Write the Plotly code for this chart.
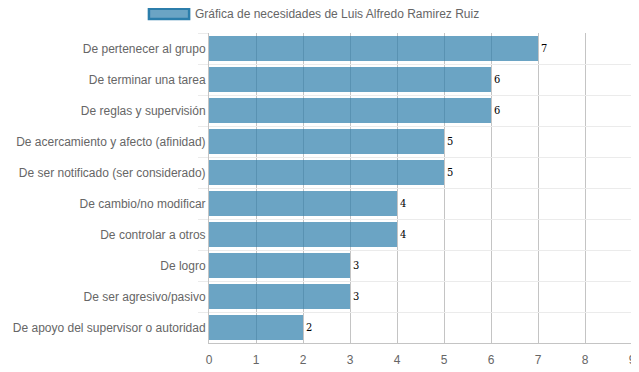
import plotly.graph_objects as go

categories = [
    "De pertenecer al grupo",
    "De terminar una tarea",
    "De reglas y supervisión",
    "De acercamiento y afecto (afinidad)",
    "De ser notificado (ser considerado)",
    "De cambio/no modificar",
    "De controlar a otros",
    "De logro",
    "De ser agresivo/pasivo",
    "De apoyo del supervisor o autoridad",
]
values = [7, 6, 6, 5, 5, 4, 4, 3, 3, 2]
series_name = "Gráfica de necesidades de Luis Alfredo Ramirez Ruiz"
x_ticks = list(range(0, 10))

fig = go.Figure()
fig.add_trace(go.Bar(
    x=values, y=categories, orientation="h",
    marker=dict(color="rgba(44,126,171,0.7)", line=dict(width=0)),
    text=[str(v) for v in values], textposition="outside",
    textfont=dict(color="#000", size=11, family="DejaVu Serif Condensed, serif"),
    cliponaxis=False, showlegend=False, name=series_name,
))

# Legend drawn as a box + text
fig.add_shape(type="rect", xref="paper", yref="paper",
              x0=-0.142, x1=-0.047, y0=1.045, y1=1.078,
              fillcolor="rgba(44,126,171,0.7)",
              line=dict(color="rgb(44,126,171)", width=2.5))
fig.add_annotation(text=series_name, xref="paper", yref="paper",
                   x=-0.038, y=1.061, xanchor="left", yanchor="middle",
                   showarrow=False, font=dict(size=12, color="#666"))

# page body has an 8px margin, so the figure is sized to fit the window
fig.update_layout(
    width=631, height=364,
    margin=dict(l=201, r=7, t=25, b=29),
    paper_bgcolor="white", plot_bgcolor="white",
    font=dict(family="Liberation Sans, Arial, sans-serif", size=12, color="#666"),
    bargap=0.2,
    xaxis=dict(range=[0, 9], tickvals=x_ticks, showgrid=True, automargin=False,
               gridcolor="#c4c4c4", gridwidth=1, zeroline=False,
               showline=True, linecolor="#c4c4c4", ticks="", ticklabelstandoff=6,
               ticklabeloverflow="allow",
               tickfont=dict(size=12, color="#666")),
    yaxis=dict(autorange="reversed", tickson="boundaries", showgrid=True, automargin=False,
               gridcolor="#ebebeb", ticks="outside", ticklen=10, tickcolor="#ebebeb",
               showline=True, linecolor="#c4c4c4", zeroline=False,
               tickfont=dict(size=12, color="#666")),
)

fig.write_html("out.html")
